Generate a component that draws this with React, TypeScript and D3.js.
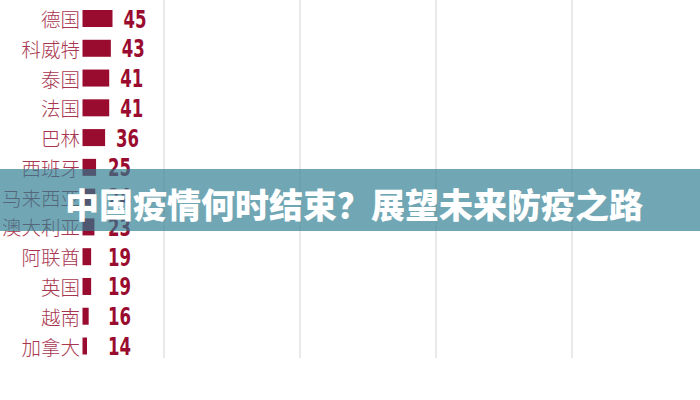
import React from "react";
import * as d3 from "d3";

const countries = ["德国", "科威特", "泰国", "法国", "巴林", "西班牙", "马来西亚", "澳大利亚", "阿联酋", "英国", "越南", "加拿大"];
const values = [45, 43, 41, 41, 36, 25, 24, 23, 19, 19, 16, 14];
const gridTicks = [0, 1, 2, 3];
const title = "中国疫情何时结束？展望未来防疫之路";

const W = 700;
const H = 400;
const BAR = "#9a0c2f";
const LABEL = "#a8364f";

export default function App() {
  const y = d3.scalePoint<string>().domain(countries).range([18.5, 346]).padding(0);
  const x = d3.scaleLinear().domain([8.5, 45]).range([82.5, 112.5]);
  const gx = d3.scaleLinear().domain([0, 3]).range([164, 572]);
  const barH = 17;

  return (
    <svg width={W} height={H} style={{ position: "fixed", left: 0, top: 0, background: "#ffffff" }}>
      <rect x={0} y={0} width={W} height={H} fill="#ffffff" />
      {gridTicks.map((t) => (
        <line key={t} x1={gx(t)} x2={gx(t)} y1={0} y2={358} stroke="#e4e0e0" strokeWidth={1.5} />
      ))}
      {countries.map((c, i) => {
        const cy = y(c) as number;
        const x0 = x(8.5);
        const x1 = x(values[i]);
        const lx = Math.max(x1 + 11, 108);
        return (
          <g key={c}>
            <text
              x={80}
              y={cy}
              textAnchor="end"
              dominantBaseline="central"
              fontFamily="'Noto Sans CJK SC', sans-serif"
              fontWeight={300}
              fontSize={19.5}
              fill={LABEL}
            >
              {c}
            </text>
            <rect x={x0} y={cy - barH / 2} width={Math.max(x1 - x0, 4)} height={barH} fill={BAR} />
            <text
              transform={`translate(${lx},${cy + 9}) scale(0.72,1)`}
              fontFamily="'DejaVu Sans Condensed', 'DejaVu Sans', sans-serif"
              fontStretch="condensed"
              fontWeight="bold"
              fontSize={25.5}
              fill={BAR}
            >
              {values[i]}
            </text>
          </g>
        );
      })}
      <rect x={0} y={169} width={W} height={62} fill="rgb(45,125,145)" fillOpacity={0.68} />
      <text
        x={65}
        y={203}
        dominantBaseline="central"
        fontFamily="'Noto Sans CJK SC', sans-serif"
        fontWeight={900}
        fontSize={34}
        fill="#ffffff"
      >
        {title}
      </text>
    </svg>
  );
}
